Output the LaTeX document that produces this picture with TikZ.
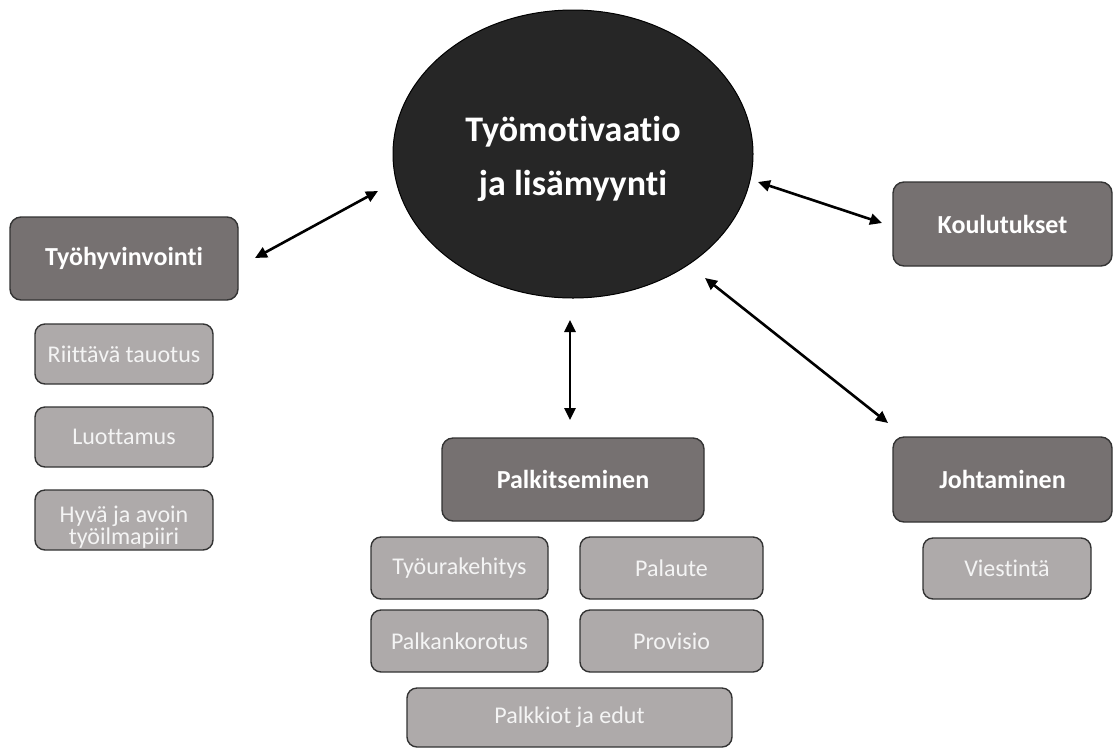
\documentclass[tikz,border=0pt]{standalone}
\usepackage{fontspec}
\setmainfont[Ligatures=NoCommon]{Carlito}
\usetikzlibrary{shapes.geometric,arrows.meta}
\definecolor{darkbox}{HTML}{767171}
\definecolor{lightbox}{HTML}{AEAAAA}
\definecolor{core}{HTML}{262626}
\definecolor{edge}{HTML}{333333}
\definecolor{softwhite}{HTML}{F4F4F4}
\tikzset{
  mainbox/.style={draw=edge, line width=1.4pt, fill=darkbox, rounded corners=11pt,
    text=white, font=\fontsize{26}{30}\selectfont\bfseries, inner sep=0pt, align=center},
  subbox/.style={draw=edge, line width=1.4pt, fill=lightbox, rounded corners=10pt,
    text=softwhite, font=\fontsize{24}{22}\selectfont, inner sep=0pt, align=center},
  subtext/.style={text=softwhite, font=\fontsize{24}{22}\selectfont, inner sep=0pt, align=center},
  link/.style={line width=2.6pt, {Triangle[length=12pt,width=11pt]}-{Triangle[length=12pt,width=11pt]}}
}
\begin{document}
\begin{tikzpicture}[x=1pt,y=-1pt]
\useasboundingbox (0,0) rectangle (1113,748);
% centre
\node[ellipse, draw=black, line width=1pt, fill=core, minimum width=360pt, minimum height=288pt,
  inner sep=0pt] (core) at (573,154) {};
\node[text=white, align=center, inner sep=0pt, font=\fontsize{36}{54}\selectfont\bfseries]
  (coretext) at ([yshift=-5pt]core.center) {Työmotivaatio\\ja lisämyynti};
% main boxes
\node[mainbox, minimum width=228pt, minimum height=83pt] (tyo) at (124,258.5) {Työhyvinvointi};
\node[mainbox, minimum width=262pt, minimum height=83pt] (palk) at (573,479.5) {Palkitseminen};
\node[mainbox, minimum width=219pt, minimum height=84pt] (koul) at (1002.5,224) {Koulutukset};
\node[mainbox, minimum width=219pt, minimum height=85pt] (joht) at (1002.5,479.5) {Johtaminen};
% sub boxes
\node[subbox, minimum width=178pt, minimum height=60pt] (riit) at (124,354) {Riittävä tauotus};
\node[subbox, minimum width=178pt, minimum height=60pt] (luot) at (124,437) {Luottamus};
\node[subbox, minimum width=178pt, minimum height=60pt] (hyva) at (124,520) {};
\node[subtext] (hyvatext) at ([yshift=-7pt]hyva.center) {Hyvä ja avoin\\työilmapiiri};
\node[subbox, minimum width=177pt, minimum height=62pt] (tyou) at (459.5,568) {Työurakehitys};
\node[subbox, minimum width=183pt, minimum height=62pt] (pala) at (671.5,568) {Palaute};
\node[subbox, minimum width=177pt, minimum height=62pt] (palkk) at (459.5,641) {Palkankorotus};
\node[subbox, minimum width=183pt, minimum height=62pt] (prov) at (671.5,641) {Provisio};
\node[subbox, minimum width=325pt, minimum height=59pt] (edut) at (569.5,717.5) {Palkkiot ja edut};
\node[subbox, minimum width=168pt, minimum height=61pt] (vies) at (1007,568.5) {Viestintä};
% arrow ends
\coordinate (a1) at (378,191);
\coordinate (a2) at (255,258);
\coordinate (b1) at (758,182);
\coordinate (b2) at (882,223);
\coordinate (c1) at (570,320);
\coordinate (c2) at (570,420);
\coordinate (d1) at (705,278);
\coordinate (d2) at (888,423);
\draw[link] (a1) -- (a2);
\draw[link] (b1) -- (b2);
\draw[link] (c1) -- (c2);
\draw[link] (d1) -- (d2);
\end{tikzpicture}
\end{document}
